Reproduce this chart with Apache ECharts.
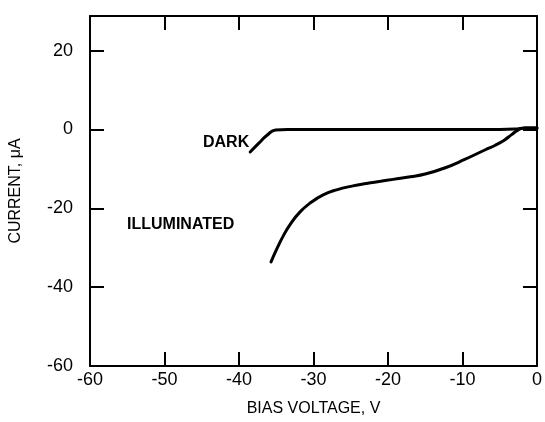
<!DOCTYPE html>
<html>
<head>
<meta charset="utf-8">
<script src="https://cdn.jsdelivr.net/npm/echarts@6/dist/echarts.min.js"></script>
<style>html,body{margin:0;padding:0;background:#fff}#c{width:545px;height:422px}</style>
</head>
<body>
<div id="c"></div>
<script>
const darkX = [-38.5, -37.3, -36.2, -35.1, -33.5, -25, -15, -5, -3, -1.5, 0];
const darkY = [-5.7, -3.4, -1.4, -0.1, 0, 0, 0, 0, 0.1, 0.4, 0.4];
const illumX = [-35.7, -34.8, -34.0, -33.1, -31.8, -30.4, -28.7, -26.9, -24.7, -22.9, -21.0, -19.3, -17.0, -15.0, -12.3, -9.7, -7.0, -5.6, -4.4, -3.4, -2.6, -1.7, 0];
const illumY = [-33.6, -29.8, -26.8, -24.0, -20.9, -18.6, -16.6, -15.3, -14.3, -13.7, -13.15, -12.65, -12.0, -11.3, -9.7, -7.6, -5.2, -4.0, -2.7, -1.3, -0.2, 0.4, 0.4];
const xTicks = [-60, -50, -40, -30, -20, -10, 0];
const yTicks = [-60, -40, -20, 0, 20];

const font = 'Liberation Sans';
const pair = (xs, ys) => xs.map((x, i) => [x, ys[i]]);
const axLine = { show: true, onZero: false, lineStyle: { color: '#000', width: 2 } };
const tick = { show: true, inside: true, length: 14, lineStyle: { color: '#000', width: 2 } };

const chart = echarts.init(document.getElementById('c'), null, { renderer: 'canvas' });
chart.setOption({
  animation: false,
  backgroundColor: '#fff',
  grid: { left: 90, right: 2, top: 16, bottom: 56 },
  xAxis: [
    { type: 'value', min: -60, max: 0, interval: 10, position: 'bottom',
      axisLine: axLine, axisTick: tick, splitLine: { show: false },
      axisLabel: { color: '#000', fontFamily: font, fontSize: 18, margin: 5,
        formatter: v => xTicks.includes(v) ? String(v) : '' },
      name: 'BIAS VOLTAGE, V', nameLocation: 'middle', nameGap: 35,
      nameTextStyle: { color: '#000', fontFamily: font, fontSize: 16 } },
    { type: 'value', min: -60, max: 0, interval: 10, position: 'top',
      axisLine: axLine, axisTick: tick, axisLabel: { show: false }, splitLine: { show: false } }
  ],
  yAxis: [
    { type: 'value', min: -60, max: 28.8, interval: 20, position: 'left',
      axisLine: axLine, axisTick: tick, splitLine: { show: false },
      axisLabel: { color: '#000', fontFamily: font, fontSize: 18, margin: 17, showMaxLabel: false,
        formatter: v => yTicks.includes(v) ? String(v) : '' },
      name: 'CURRENT, \u03bcA', nameLocation: 'middle', nameGap: 66,
      nameTextStyle: { color: '#000', fontFamily: font, fontSize: 16 } },
    { type: 'value', min: -60, max: 28.8, interval: 20, position: 'right',
      axisLine: axLine, axisTick: tick, axisLabel: { show: false }, splitLine: { show: false } }
  ],
  series: [
    { name: 'DARK', type: 'line', smooth: 0.5, symbol: 'none', data: pair(darkX, darkY),
      lineStyle: { color: '#000', width: 3, cap: 'round' } },
    { name: 'ILLUMINATED', type: 'line', smooth: 0.5, symbol: 'none', data: pair(illumX, illumY),
      lineStyle: { color: '#000', width: 3, cap: 'round' } }
  ],
  graphic: [
    { type: 'text', left: 203, top: 135, style: { text: 'DARK', fill: '#000', font: 'bold 16px "Liberation Sans"' } },
    { type: 'text', left: 127, top: 217, style: { text: 'ILLUMINATED', fill: '#000', font: 'bold 16px "Liberation Sans"' } }
  ]
});
</script>
</body>
</html>
